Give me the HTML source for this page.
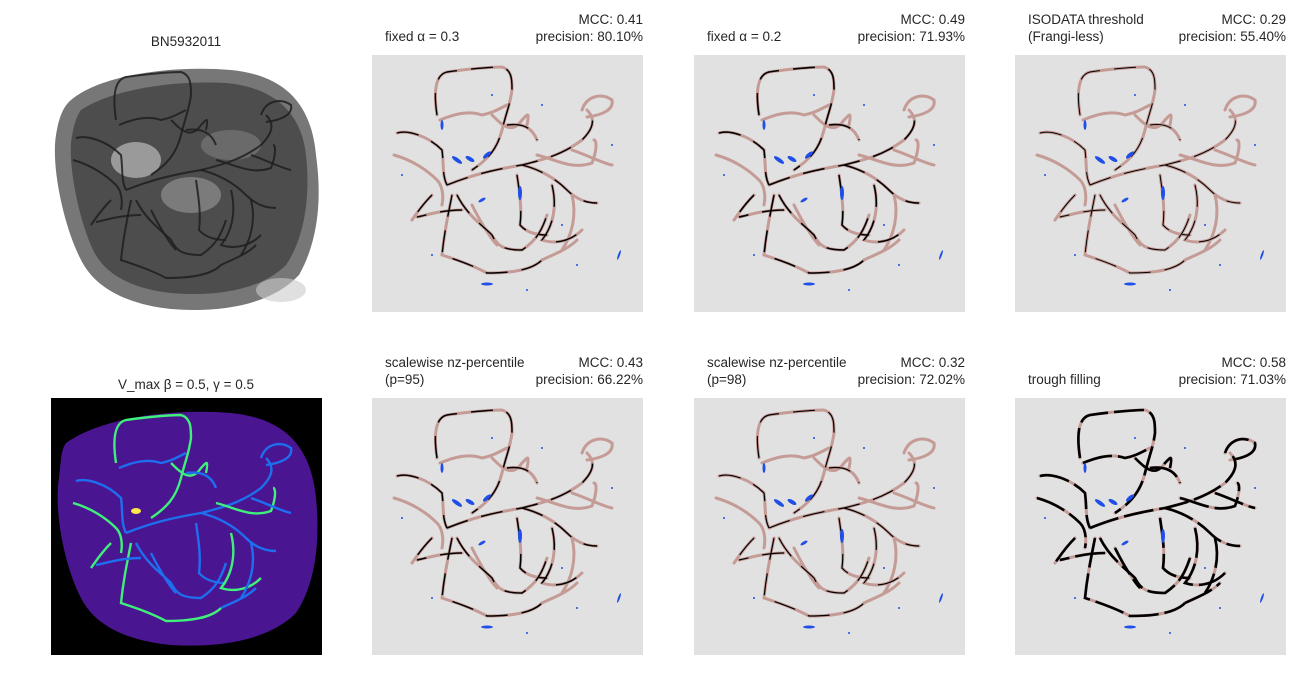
<!DOCTYPE html>
<html><head><meta charset="utf-8"><style>
body{margin:0;background:#fff;width:1300px;height:700px;overflow:hidden;font-family:"Liberation Sans","DejaVu Sans",sans-serif;}
svg{display:block}
</style></head><body>
<svg id="fig" width="1300" height="700" viewBox="0 0 1300 700" xmlns="http://www.w3.org/2000/svg"></svg>
<script>
const leftTitles=["fixed \u03b1 = 0.3","fixed \u03b1 = 0.2","ISODATA threshold|(Frangi-less)","scalewise nz-percentile|(p=95)","scalewise nz-percentile|(p=98)","trough filling"];
const mccValues=["0.41","0.49","0.29","0.43","0.32","0.58"];
const precisionValues=["80.10%","71.93%","55.40%","66.22%","72.02%","71.03%"];
const blackWidths=[1.4,1.6,1.0,1.5,1.2,2.6];
const panelX=[372,694,1015];
const rowY=[55,398];
const NS="http://www.w3.org/2000/svg";
const fig=document.getElementById('fig');
function mk(tag,attrs,parent){const e=document.createElementNS(NS,tag);for(const k in attrs)e.setAttribute(k,attrs[k]);(parent||fig).appendChild(e);return e;}
const vessels=[
"M65,60 C62,40 62,20 75,17 C95,14 120,12 130,12 C140,15 140,25 140,35 C138,50 135,55 130,75 C125,95 115,105 100,115",
"M68,65 C80,60 95,55 110,60 C120,58 125,55 135,50",
"M25,78 C35,75 55,80 70,95 C72,110 70,120 75,130",
"M22,100 C40,105 55,115 65,125 C70,130 72,140 70,150",
"M75,130 C100,120 120,115 150,110 C170,105 190,100 210,85 C220,75 225,65 215,55",
"M150,110 C170,115 185,125 195,135 C205,145 215,148 225,148",
"M165,100 C185,105 200,115 220,108 C225,95 225,85 222,85",
"M210,55 C215,40 230,38 240,45 C242,55 230,60 215,62",
"M85,140 C95,160 110,170 120,180 C125,190 130,195 150,195 C165,185 170,175 175,160",
"M80,140 C75,165 72,180 70,200 C85,205 100,210 115,218 C140,218 160,215 170,205",
"M100,150 C110,170 120,185 125,190",
"M145,120 C148,140 150,155 148,170 C155,178 165,180 175,180",
"M180,130 C185,150 182,170 170,185 C185,190 200,185 210,175",
"M200,140 C205,160 200,180 190,195",
"M90,155 C70,155 55,160 45,162",
"M120,60 C130,70 140,80 150,65 C155,60 158,55 155,70",
"M135,70 C150,68 160,72 165,85",
"M200,95 C215,100 230,108 240,110",
"M60,140 C50,150 45,158 40,165",
"M170,205 C180,200 195,195 205,185"
];
const blackSet=[0,2,4,5,8,9,11,12,14,16,18];
const blobs=[[85,105,6,2,35],[98,104,5,2,30],[115,100,5,2,-40],[148,138,2,7,0],[115,229,6,1.5,0],[247,200,1,5,20],[70,70,1.5,5,0],[110,145,4,1.5,-30],[30,120,1,1,0],[170,50,1,1,0],[190,170,1,1,0],[240,90,1,1,0],[60,200,1,1,0],[155,235,1,1,0],[205,210,1,1,0],[120,40,1,1,0]];
let idx=0;
for(let r=0;r<2;r++){for(let c=0;c<3;c++){
 const i=idx++;const px=panelX[c];const py=rowY[r];
 const g=mk('g',{transform:`translate(${px},${py})`});
 
 
 mk('rect',{x:0,y:0,width:271,height:257,fill:'#e1e1e1'},g);
 vessels.forEach(d=>mk('path',{d:d,fill:'none',stroke:'#c59b96','stroke-width':3,'stroke-linecap':'round'},g));
 vessels.forEach((d,k)=>{if(blackSet.indexOf(k)>=0||i===5)mk('path',{d:d,fill:'none',stroke:'#000','stroke-width':blackWidths[i],'stroke-dasharray':i===5?'30 6':'22 14'},g);});
 blobs.forEach(b=>mk('ellipse',{cx:b[0],cy:b[1],rx:b[2],ry:b[3],transform:`rotate(${b[4]} ${b[0]} ${b[1]})`,fill:'#1f4fe6'},g));
 const tl=leftTitles[i].split('|');
 const ax=[385,707,1028][c];const rx=[643,965,1286][c];const ty=r===0?0:343;
 tl.forEach((t,k)=>{const e=mk('text',{x:ax,y:ty+(tl.length===2?24:41)+k*17,'font-size':13.5,fill:'#262626'});e.textContent=t;});
 const m=mk('text',{x:rx,y:ty+24,'font-size':13.5,fill:'#262626','text-anchor':'end'});m.textContent='MCC: '+mccValues[i];
 
 const p=mk('text',{x:rx,y:ty+41,'font-size':13.5,fill:'#262626','text-anchor':'end'});p.textContent='precision: '+precisionValues[i];
 
}}
// Photo panel
const ph=mk('g',{transform:'translate(51,55)'});

mk('path',{d:"M20,45 C50,20 120,10 180,15 C230,20 260,45 265,100 C272,150 265,190 248,220 C220,250 170,258 120,254 C80,250 45,235 30,205 C12,170 0,110 5,80 C8,62 12,52 20,45 Z",fill:'#777'},ph);
mk('path',{d:"M30,55 C60,35 120,25 175,28 C220,32 250,55 255,100 C260,145 252,185 235,210 C210,235 165,242 120,238 C85,234 55,222 42,195 C28,165 18,115 20,88 C22,72 25,62 30,55 Z",fill:'#4d4d4d'},ph);
mk('ellipse',{cx:85,cy:105,rx:25,ry:18,fill:'#bbb',opacity:0.7},ph);
mk('ellipse',{cx:140,cy:140,rx:30,ry:18,fill:'#aaa',opacity:0.5},ph);
mk('ellipse',{cx:180,cy:90,rx:30,ry:15,fill:'#888',opacity:0.5},ph);
mk('ellipse',{cx:230,cy:235,rx:25,ry:12,fill:'#ccc',opacity:0.6},ph);
vessels.forEach(d=>mk('path',{d:d,fill:'none',stroke:'#1e1e1e','stroke-width':2,opacity:0.85,transform:'translate(0,5)'},ph));
const t1=mk('text',{x:186,y:46,'font-size':13.5,fill:'#262626','text-anchor':'middle'});t1.textContent='BN5932011';

// Vmax panel
const vm=mk('g',{transform:'translate(51,398)'});

mk('rect',{x:0,y:0,width:271,height:257,fill:'#000'},vm);
mk('path',{d:"M15,45 C50,20 120,10 180,15 C230,20 260,45 265,100 C270,150 262,190 245,215 C218,242 170,250 120,247 C80,243 45,230 30,200 C12,165 3,110 8,80 C10,62 10,52 15,45 Z",fill:'#4a1590'},vm);
vessels.forEach((d,k)=>mk('path',{d:d,fill:'none',stroke:k%3===0?'#3ff07a':'#1e6ff0','stroke-width':2.4,transform:'translate(0,5)'},vm));
mk('ellipse',{cx:85,cy:113,rx:5,ry:3,fill:'#ffe84a'},vm);
const t2=mk('text',{x:186,y:389,'font-size':13.5,fill:'#262626','text-anchor':'middle'});t2.textContent='V_max \u03b2 = 0.5, \u03b3 = 0.5';

</script>
</body></html>
